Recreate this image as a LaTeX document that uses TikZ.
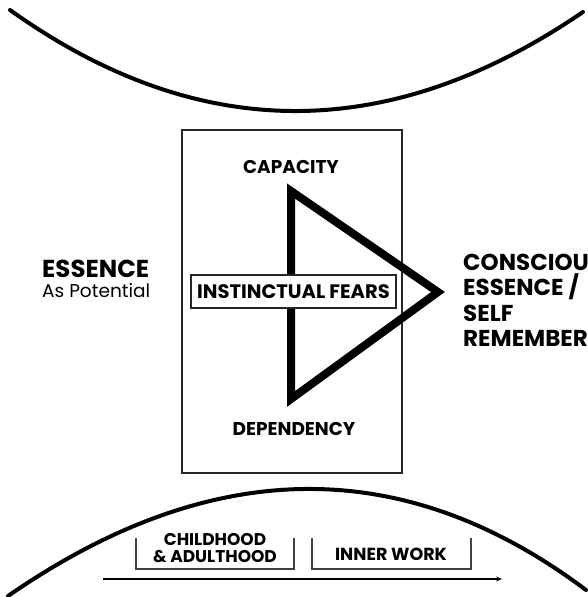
\documentclass[tikz,border=0pt]{standalone}
\usepackage{fontspec}
\setmainfont{Poppins}
\usetikzlibrary{arrows.meta}
\begin{document}
\begin{tikzpicture}[x=1pt,y=-1pt,
  boldlbl/.style={inner sep=0pt, font=\bfseries\fontsize{#1}{#1}\selectfont},
  reglbl/.style={inner sep=0pt, font=\fontsize{#1}{#1}\selectfont},
  curve/.style={line width=4pt, line cap=round},
  thinframe/.style={draw=black!85, line width=1.6pt},
  bracket/.style={draw=black!75, line width=1.4pt},
  tri/.style={line width=8pt, line join=miter}]
\useasboundingbox[fill=white] (0,0) rectangle (588,597);

% curves
\coordinate (tl) at (10,10);
\coordinate (tr) at (583,12);
\draw[curve] (tl) .. controls (197.7,144) and (388.7,144.7) .. (tr);
\coordinate (bl) at (8,596);
\coordinate (br) at (586,590);
\draw[curve] (bl) .. controls (211.3,455.3) and (404,453.3) .. (br);

% frame
\draw[thinframe] (182,130) rectangle (402,473);

% triangle
\coordinate (ta) at (291,191);
\coordinate (tb) at (291,399);
\coordinate (tc) at (438,292);
\draw[tri] (ta) -- (tc) -- (tb) -- cycle;

% labels
\node[boldlbl=18.5, anchor=base] (cap) at (291,173) {CAPACITY};
\node[boldlbl=18.5, anchor=base] (dep) at (294,435) {DEPENDENCY};
\node[boldlbl=19.5, thinframe, fill=white, minimum width=205pt, minimum height=33pt] (fears) at (293.5,291.5) {INSTINCTUAL FEARS};

\node[boldlbl=24.5, anchor=base west] (ess) at (42,277) {ESSENCE};
\node[reglbl=18.5, anchor=base west] (pot) at (42,297) {As Potential};

\node[boldlbl=23, anchor=base west] (c1) at (463,270) {CONSCIOUS};
\node[boldlbl=23, anchor=base west] (c2) at (463,295.5) {ESSENCE /};
\node[boldlbl=23, anchor=base west] (c3) at (463,321) {SELF};
\node[boldlbl=23, anchor=base west] (c4) at (463,346.5) {REMEMBERING};

% brackets
\draw[bracket] (136,538) -- (136,569) -- (294,569) -- (294,538);
\draw[bracket] (312,538) -- (312,569) -- (471,569) -- (471,538);
\node[boldlbl=17, anchor=base] (ch1) at (215,545) {CHILDHOOD};
\node[boldlbl=17, anchor=base] (ch2) at (215,562) {\& ADULTHOOD};
\node[boldlbl=17.5, anchor=base] (iw) at (391,560) {INNER WORK};

% arrow
\coordinate (as) at (103,579);
\coordinate (ae) at (502,579);
\draw[line width=1.8pt, -{Stealth[length=6pt,width=5pt]}] (as) -- (ae);
\end{tikzpicture}
\end{document}
